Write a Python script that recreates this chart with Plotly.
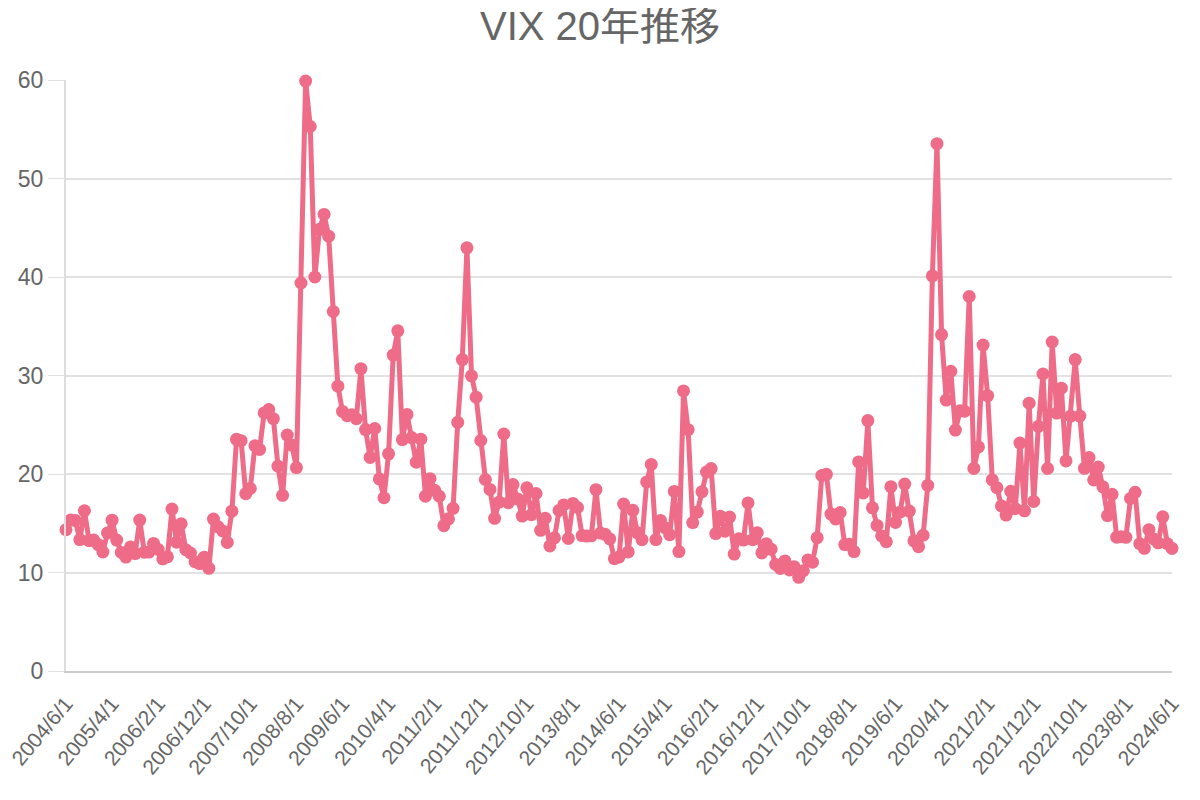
import plotly.graph_objects as go

# monthly VIX closes, 2004/6 - 2024/6
years = list(range(2004, 2025))
vix_2004 = [14.34, 15.32, 15.29, 13.34, 16.27, 13.24, 13.29]
vix_2005 = [12.82, 12.08, 14.02, 15.31, 13.29, 12.04, 11.57, 12.60, 11.92, 15.32, 12.06, 12.07]
vix_2006 = [12.95, 12.34, 11.39, 11.59, 16.44, 13.08, 14.95, 12.31, 11.98, 11.10, 10.91, 11.56]
vix_2007 = [10.42, 15.42, 14.64, 14.22, 13.05, 16.23, 23.52, 23.38, 18.00, 18.53, 22.87, 22.50]
vix_2008 = [26.20, 26.54, 25.61, 20.79, 17.83, 23.95, 22.94, 20.65, 39.39, 59.89, 55.28, 40.00]
vix_2009 = [44.84, 46.35, 44.14, 36.50, 28.92, 26.35, 25.92, 26.01, 25.61, 30.69, 24.51, 21.68]
vix_2010 = [24.62, 19.50, 17.59, 22.05, 32.07, 34.54, 23.50, 26.05, 23.70, 21.20, 23.54, 17.75]
vix_2011 = [19.53, 18.35, 17.74, 14.75, 15.45, 16.52, 25.25, 31.62, 42.96, 29.96, 27.80, 23.40]
vix_2012 = [19.44, 18.43, 15.50, 17.15, 24.06, 17.08, 18.93, 17.47, 15.73, 18.60, 15.87, 18.02]
vix_2013 = [14.28, 15.51, 12.70, 13.52, 16.30, 16.86, 13.45, 17.01, 16.60, 13.75, 13.70, 13.72]
vix_2014 = [18.41, 14.00, 13.88, 13.41, 11.40, 11.57, 16.95, 12.09, 16.31, 14.03, 13.33, 19.20]
vix_2015 = [20.97, 13.34, 15.29, 14.55, 13.84, 18.23, 12.12, 28.43, 24.50, 15.07, 16.13, 18.21]
vix_2016 = [20.20, 20.55, 13.95, 15.70, 14.19, 15.63, 11.87, 13.42, 13.29, 17.06, 13.33, 14.04]
vix_2017 = [11.99, 12.92, 12.37, 10.82, 10.41, 11.18, 10.26, 10.59, 9.51, 10.18, 11.28, 11.04]
vix_2018 = [13.54, 19.85, 19.97, 15.93, 15.43, 16.09, 12.83, 12.86, 12.12, 21.23, 18.07, 25.42]
vix_2019 = [16.57, 14.78, 13.71, 13.12, 18.71, 15.08, 16.12, 18.98, 16.24, 13.22, 12.62, 13.78]
vix_2020 = [18.84, 40.11, 53.54, 34.15, 27.51, 30.43, 24.46, 26.41, 26.37, 38.02, 20.57, 22.75]
vix_2021 = [33.09, 27.95, 19.40, 18.61, 16.76, 15.83, 18.24, 16.48, 23.14, 16.26, 27.19, 17.22]
vix_2022 = [24.83, 30.15, 20.56, 33.40, 26.19, 28.71, 21.33, 25.87, 31.62, 25.88, 20.58, 21.67]
vix_2023 = [19.40, 20.70, 18.70, 15.78, 17.94, 13.59, 13.63, 13.57, 17.52, 18.14, 12.92, 12.45]
vix_2024 = [14.35, 13.40, 13.01, 15.65, 12.92, 12.44]

blocks = [vix_2004, vix_2005, vix_2006, vix_2007, vix_2008, vix_2009, vix_2010,
          vix_2011, vix_2012, vix_2013, vix_2014, vix_2015, vix_2016, vix_2017,
          vix_2018, vix_2019, vix_2020, vix_2021, vix_2022, vix_2023, vix_2024]

dates = []
values = []
for y, vals in zip(years, blocks):
    start = 6 if y == 2004 else 1
    for i, v in enumerate(vals):
        dates.append(f"{y}/{start + i}/1")
        values.append(v)

tick_labels = dates[::10]

color = "rgb(238,108,136)"
font_family = "Arial, Liberation Sans, Noto Sans CJK JP"

fig = go.Figure(go.Scatter(
    x=dates, y=values,
    mode="lines+markers",
    line=dict(color=color, width=5),
    marker=dict(color=color, size=13),
    cliponaxis=False,
    hoverinfo="x+y",
))

# page body adds an 8px margin, so the figure is a bit smaller than the window
fig.update_layout(
    width=1184, height=784,
    title=dict(text="VIX 20年推移", x=0.5, xanchor="center",
               y=0.977, yref="container", yanchor="middle",
               font=dict(size=40, color="#666", family=font_family)),
    font=dict(family=font_family, color="#666", size=22),
    margin=dict(l=58, r=20, t=72, b=121),
    plot_bgcolor="white", paper_bgcolor="white",
    showlegend=False,
)
fig.update_xaxes(
    type="category", range=[0, len(dates) - 1], automargin=False,
    tickmode="array", tickvals=tick_labels, ticktext=tick_labels,
    tickangle=-50, showgrid=False, showline=True, linecolor="#ccc", linewidth=2,
    ticks="", ticklabelstandoff=10, tickfont=dict(size=21, color="#666"),
)
fig.update_yaxes(
    range=[0, 60], dtick=10, showgrid=True, gridcolor="#e2e2e2", gridwidth=1.5,
    showline=True, linecolor="#ddd", linewidth=2, zeroline=False, automargin=False,
    ticks="outside", ticklen=16, tickcolor="#e2e2e2", tickfont=dict(size=23, color="#666"),
)

fig.write_html("out.html")
